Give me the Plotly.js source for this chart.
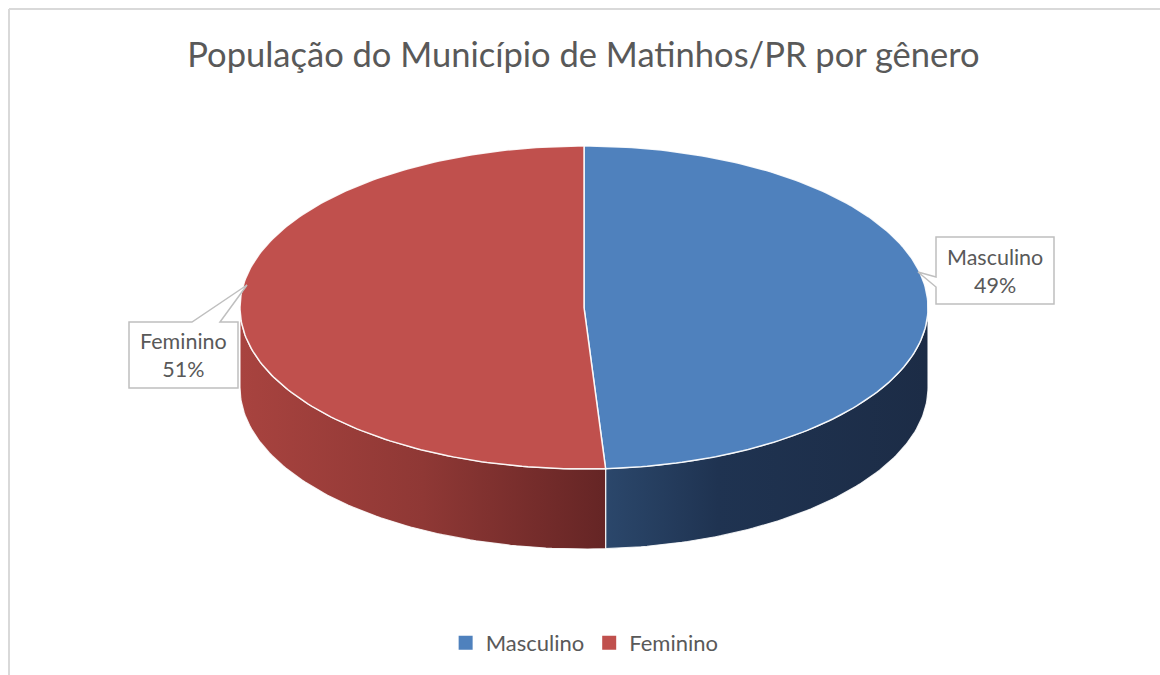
<!DOCTYPE html>
<html>
<head>
<meta charset="utf-8">
<script src="https://cdn.plot.ly/plotly-3.0.1.min.js"></script>
<style>html,body{margin:0;padding:0;background:#fff;}#chart{width:1160px;height:675px;}</style>
</head>
<body>
<div id="chart"></div>
<script>
// ---- data ----
const categories = ['Masculino', 'Feminino'];
const values = [49, 51];
const chartTitle = 'População do Município de Matinhos/PR por gênero';

// ---- styles ----
const topColors = ['#4F81BD', '#C0504D'];
const wallScales = [
  [[0, '#2B476B'], [0.35, '#1F3351'], [1, '#1C2C46']],
  [[0, '#A8433F'], [0.5, '#8F3835'], [1, '#652525']]
];
const FONT = 'Lato, "Open Sans", sans-serif';
const TXT = '#595959';

// pie geometry (pixel-like axis units)
const cx = 584, cy = 307.5, rx = 344, ry = 161.5, depth = 80;

function pt(thetaDeg, dy) {
  const t = thetaDeg * Math.PI / 180;
  return [cx + rx * Math.sin(t), cy - ry * Math.cos(t) + (dy || 0)];
}
function arc(a, b, dy) {
  const pts = [];
  const n = Math.max(2, Math.ceil(Math.abs(b - a)));
  for (let i = 0; i <= n; i++) pts.push(pt(a + (b - a) * i / n, dy));
  return pts;
}

const total = values.reduce((s, v) => s + v, 0);
const traces = [];
const tops = [];
let start = 0;
values.forEach((v, i) => {
  const end = start + 360 * v / total;
  // front wall (visible part between 90 and 270 degrees)
  const ws = Math.max(start, 90), we = Math.min(end, 270);
  if (we > ws) {
    const upper = arc(ws, we, 0);
    const lower = arc(we, ws, depth);
    const poly = upper.concat(lower);
    poly.push(upper[0]);
    traces.push({
      type: 'scatter', mode: 'lines',
      x: poly.map(p => p[0]), y: poly.map(p => p[1]),
      fill: 'toself',
      fillgradient: {type: 'horizontal', colorscale: wallScales[i]},
      line: {color: 'rgba(255,255,255,0.85)', width: 1.2},
      hoverinfo: 'skip', showlegend: false
    });
  }
  const face = [[cx, cy]].concat(arc(start, end, 0));
  face.push([cx, cy]);
  tops.push({
    type: 'scatter', mode: 'lines',
    x: face.map(p => p[0]), y: face.map(p => p[1]),
    fill: 'toself', fillcolor: topColors[i],
    line: {color: 'rgba(255,255,255,0.9)', width: 1.5},
    name: categories[i], hoverinfo: 'name', showlegend: false
  });
  start = end;
});
// legend entries
const legendTraces = categories.map((c, i) => ({
  type: 'scatter', mode: 'markers', x: [null], y: [null],
  marker: {symbol: 'square', size: 14, color: topColors[i]},
  name: c, showlegend: true, hoverinfo: 'skip'
}));

const pct = values.map(v => Math.round(100 * v / total) + '%');

const layout = {
  width: 1160, height: 675,
  margin: {l: 0, r: 0, t: 0, b: 0},
  paper_bgcolor: '#fff', plot_bgcolor: '#fff',
  xaxis: {range: [0, 1160], visible: false, fixedrange: true},
  yaxis: {range: [675, 0], visible: false, fixedrange: true},
  title: {
    text: chartTitle,
    font: {family: FONT, size: 34.5, color: TXT},
    x: 0.503, xanchor: 'center', y: 1 - 55 / 675, yanchor: 'middle'
  },
  showlegend: true,
  legend: {
    orientation: 'h', x: 0.504, xanchor: 'center', y: 1 - 643 / 675, yanchor: 'middle',
    font: {family: FONT, size: 22, color: TXT}, itemwidth: 30
  },
  shapes: [
    {type: 'line', xref: 'x', yref: 'y', x0: 9, x1: 1160, y0: 9, y1: 9, line: {color: '#D9D9D9', width: 2}},
    {type: 'line', xref: 'x', yref: 'y', x0: 9, x1: 9, y0: 9, y1: 675, line: {color: '#D9D9D9', width: 2}},
    {type: 'path', xref: 'x', yref: 'y', path: 'M936,237 H1054 V304 H936 V287 L918,272 L936,277 Z',
      fillcolor: '#FFFFFF', line: {color: '#BFBFBF', width: 1.5}},
    {type: 'path', xref: 'x', yref: 'y', path: 'M129,322 H192 L247,285 L220,322 H238 V388 H129 Z',
      fillcolor: '#FFFFFF', line: {color: '#BFBFBF', width: 1.5}}
  ],
  annotations: [
    {xref: 'x', yref: 'y', x: 995, y: 271, text: categories[0] + '<br>' + pct[0], showarrow: false,
      font: {family: FONT, size: 21.5, color: TXT}, align: 'center'},
    {xref: 'x', yref: 'y', x: 183.5, y: 355, text: categories[1] + '<br>' + pct[1], showarrow: false,
      font: {family: FONT, size: 21.5, color: TXT}, align: 'center'}
  ]
};

Plotly.newPlot('chart', traces.concat(tops, legendTraces), layout, {displayModeBar: false, staticPlot: true});
</script>
</body>
</html>
